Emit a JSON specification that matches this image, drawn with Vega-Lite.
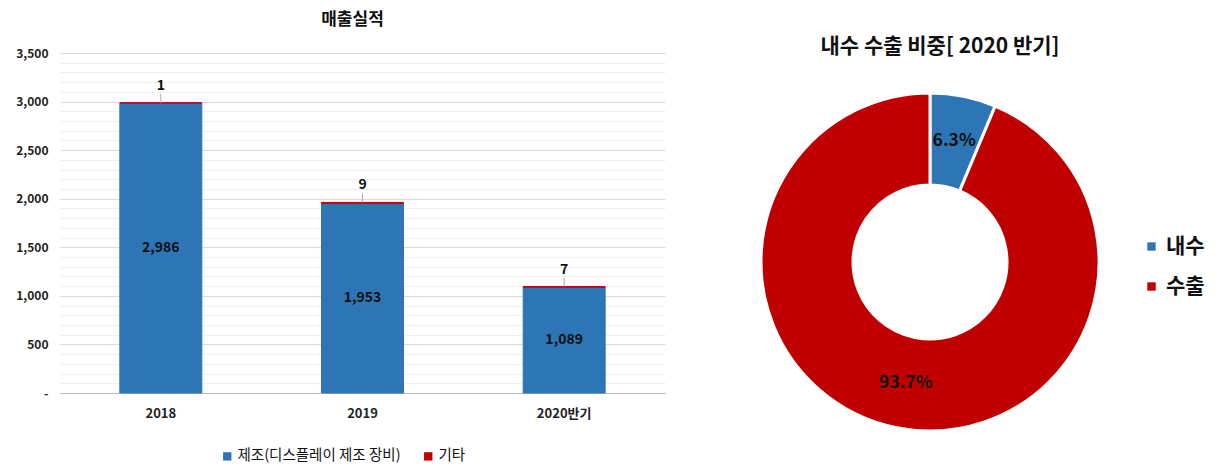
{
  "$schema": "https://vega.github.io/schema/vega-lite/v6.json",
  "padding": {"left": 15, "top": 11, "right": 0, "bottom": 0},
  "background": "white",
  "config": {
    "font": "Noto Sans CJK KR",
    "view": {"stroke": null},
    "concat": {"spacing": 90}
  },
  "datasets": {
    "sales": [
      {"year": "2018", "type": "제조(디스플레이 제조 장비)", "value": 2986},
      {"year": "2018", "type": "기타", "value": 1},
      {"year": "2019", "type": "제조(디스플레이 제조 장비)", "value": 1953},
      {"year": "2019", "type": "기타", "value": 9},
      {"year": "2020반기", "type": "제조(디스플레이 제조 장비)", "value": 1089},
      {"year": "2020반기", "type": "기타", "value": 7}
    ],
    "share": [
      {"kind": "내수", "share": 0.063, "ord": 1},
      {"kind": "수출", "share": 0.937, "ord": 2}
    ]
  },
  "resolve": {"scale": {"color": "independent"}, "legend": {"color": "independent"}},
  "hconcat": [
    {
      "width": 605,
      "height": 340,
      "title": {"text": "매출실적", "fontSize": 17, "fontWeight": "bold", "color": "#111", "offset": 18, "anchor": "middle", "dx": -10},
      "data": {"name": "sales"},
      "resolve": {"scale": {"y": "independent"}},
      "layer": [
        {
          "mark": {"type": "bar", "width": 82, "strokeWidth": 1},
          "encoding": {
            "x": {
              "field": "year", "type": "nominal", "sort": null, "title": null,
              "scale": {"paddingInner": 0.6, "paddingOuter": 0.3},
              "axis": {"labelAngle": 0, "labelFontSize": 13, "labelFontWeight": "bold", "labelColor": "#222", "ticks": false, "domainColor": "#bbbbbb", "labelPadding": 14}
            },
            "y": {
              "field": "value", "type": "quantitative", "stack": "zero", "title": null,
              "scale": {"domain": [0, 3500], "nice": false},
              "axis": {
                "values": [0,100,200,300,400,500,600,700,800,900,1000,1100,1200,1300,1400,1500,1600,1700,1800,1900,2000,2100,2200,2300,2400,2500,2600,2700,2800,2900,3000,3100,3200,3300,3400,3500],
                "labelExpr": "datum.value % 500 === 0 ? (datum.value === 0 ? '-' : format(datum.value, ',')) : ''",
                "labelFontSize": 12, "labelFontWeight": "bold", "labelColor": "#222",
                "ticks": false, "domain": false, "labelPadding": 12,
                "gridColor": {"condition": {"test": "datum.value % 500 === 0", "value": "#d9d9d9"}, "value": "#efefef"}
              }
            },
            "color": {
              "field": "type", "type": "nominal",
              "scale": {"domain": ["제조(디스플레이 제조 장비)", "기타"], "range": ["#2E75B6", "#C00000"]},
              "legend": {"title": null, "orient": "none", "legendX": 160, "legendY": 396, "direction": "horizontal", "symbolType": "square", "symbolSize": 70, "labelFontSize": 14.5, "labelColor": "#111", "labelOffset": 3, "labelLimit": 400, "columnPadding": 20, "symbolStrokeWidth": 0}
            },
            "stroke": {
              "field": "type", "type": "nominal",
              "scale": {"domain": ["제조(디스플레이 제조 장비)", "기타"], "range": ["#2E75B6", "#C00000"]},
              "legend": null
            },
            "order": {"field": "type", "sort": "descending"}
          }
        },
        {
          "transform": [{"filter": "datum.type !== '기타'"}],
          "mark": {"type": "text", "fontSize": 14, "fontWeight": "bold", "color": "#111", "baseline": "middle"},
          "encoding": {
            "x": {"field": "year", "type": "nominal", "sort": null},
            "y": {"field": "value", "type": "quantitative", "scale": {"domain": [0, 7000], "nice": false}, "axis": null},
            "text": {"field": "value", "type": "quantitative", "format": ","}
          }
        },
        {
          "transform": [
            {"stack": "value", "groupby": ["year"], "sort": [{"field": "type", "order": "descending"}], "as": ["v0", "v1"]},
            {"filter": "datum.type === '기타'"}
          ],
          "layer": [
            {
              "mark": {"type": "rule", "color": "#aaaaaa", "strokeWidth": 1, "y2Offset": -9},
              "encoding": {
                "x": {"field": "year", "type": "nominal", "sort": null},
                "y": {"field": "v1", "type": "quantitative", "scale": {"domain": [0, 3500], "nice": false}, "axis": null},
                "y2": {"field": "v1"}
              }
            },
            {
              "mark": {"type": "text", "fontSize": 14, "fontWeight": "bold", "color": "#111", "baseline": "bottom", "dy": -10},
              "encoding": {
                "x": {"field": "year", "type": "nominal", "sort": null},
                "y": {"field": "v1", "type": "quantitative", "scale": {"domain": [0, 3500], "nice": false}, "axis": null},
                "text": {"field": "value", "type": "quantitative"}
              }
            }
          ]
        }
      ]
    },
    {
      "width": 340,
      "height": 418,
      "title": {"text": "내수 수출 비중[ 2020 반기]", "fontSize": 21, "fontWeight": "bold", "color": "#111", "offset": -4, "anchor": "middle", "dx": 10},
      "data": {"name": "share"},
      "layer": [
        {
          "mark": {"type": "arc", "innerRadius": 77, "outerRadius": 169, "stroke": "white", "strokeWidth": 3},
          "encoding": {
            "theta": {"field": "share", "type": "quantitative", "stack": true},
            "order": {"field": "ord", "type": "quantitative"},
            "color": {
              "field": "kind", "type": "nominal",
              "scale": {"domain": ["내수", "수출"], "range": ["#2E75B6", "#C00000"]},
              "legend": {"title": null, "orient": "none", "legendX": 381, "legendY": 183, "symbolType": "square", "symbolSize": 70, "labelFontSize": 21, "labelFontWeight": "bold", "labelColor": "#111", "labelOffset": 4, "rowPadding": 18, "symbolStrokeWidth": 0}
            }
          }
        },
        {
          "mark": {"type": "text", "radius": 123, "fontSize": 17.5, "fontWeight": "bold", "color": "#111"},
          "encoding": {
            "theta": {"field": "share", "type": "quantitative", "stack": true},
            "order": {"field": "ord", "type": "quantitative"},
            "text": {"field": "share", "type": "quantitative", "format": ".1%"}
          }
        }
      ]
    }
  ]
}
